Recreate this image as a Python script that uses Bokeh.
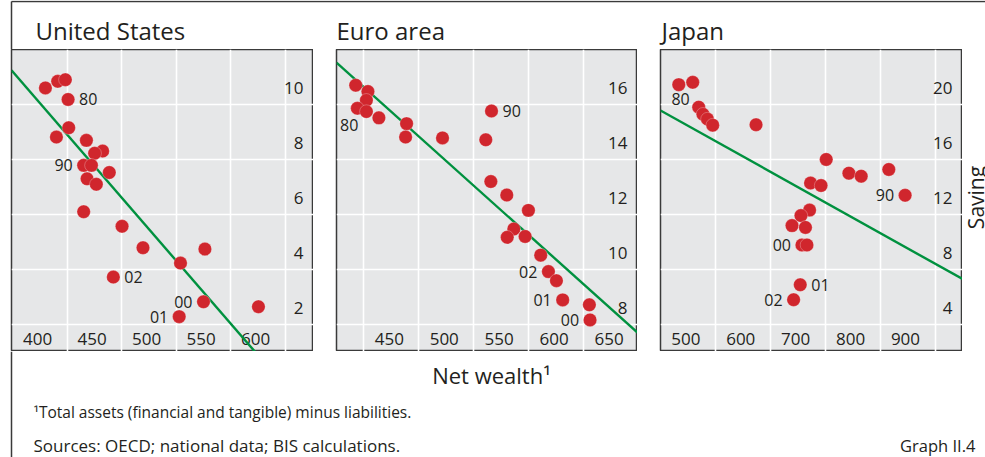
import math
from bokeh.plotting import figure
from bokeh.layouts import column, row
from bokeh.models import Range1d, ColumnDataSource, Grid, FixedTicker
from bokeh.core.properties import value
from bokeh.embed import file_html
from bokeh.resources import INLINE

# ---------------- data (net wealth, % of disposable income; saving rate, %) ----------------
us_wealth = [380.1, 391.4, 398.4, 400.9, 401.5, 390.2, 417.7, 432.6, 425.3, 415.2, 422.3, 418.3,
             426.8, 438.7, 415.2, 450.4, 469.6, 526.4, 504.0, 442.4, 525.1, 502.8, 575.5]
us_saving = [10.60, 10.84, 10.90, 10.18, 9.15, 8.81, 8.69, 8.30, 8.22, 7.78, 7.78, 7.29,
             7.09, 7.52, 6.09, 5.56, 4.78, 4.73, 4.22, 3.71, 2.81, 2.27, 2.63]
us_year = ["", "", "", "80", "", "", "", "", "", "90", "", "",
           "", "", "", "", "", "", "", "02", "00", "01", ""]
us_fit_wealth = [349, 626]
us_fit_saving = [11.24, -1.47]
us_x_ticks = [400, 450, 500, 550, 600]
us_x_tick_labels = ["400", "450", "500", "550", "600"]
us_y_ticks = [2, 4, 6, 8, 10]
us_y_tick_labels = ["2", "4", "6", "8", "10"]

eu_wealth = [392.5, 403.6, 402.2, 394.0, 402.2, 413.6, 438.8, 437.9, 471.5, 510.9, 516.1, 515.5,
             530.0, 549.7, 536.4, 530.4, 546.7, 560.9, 567.9, 575.2, 580.9, 605.2, 605.8]
eu_saving = [16.70, 16.47, 16.15, 15.86, 15.74, 15.51, 15.30, 14.81, 14.78, 14.71, 15.76, 13.19,
             12.70, 12.14, 11.46, 11.16, 11.19, 10.51, 9.91, 9.58, 8.88, 8.70, 8.15]
eu_year = ["", "", "", "80", "", "", "", "", "", "", "90", "",
           "", "", "", "", "", "", "02", "", "01", "", "00"]
eu_fit_wealth = [375, 649]
eu_fit_saving = [17.52, 7.69]
eu_x_ticks = [400, 450, 500, 550, 600, 650]
eu_x_tick_labels = ["", "450", "500", "550", "600", "650"]
eu_y_ticks = [8, 10, 12, 14, 16]
eu_y_tick_labels = ["8", "10", "12", "14", "16"]

jp_wealth = [433.3, 458.7, 469.6, 477.3, 485.5, 495.1, 574.0, 701.8, 743.1, 765.5, 815.8, 845.5,
             673.3, 692.4, 671.5, 655.8, 639.5, 664.0, 657.6, 666.7, 654.5, 642.4]
jp_saving = [21.44, 21.61, 19.80, 19.28, 18.93, 18.49, 18.52, 15.99, 14.99, 14.77, 15.26, 13.38,
             14.27, 14.09, 12.30, 11.90, 11.17, 11.04, 9.76, 9.76, 6.86, 5.77]
jp_year = ["", "", "80", "", "", "", "", "", "", "", "", "90",
           "", "", "", "", "", "", "00", "", "01", "02"]
jp_fit_wealth = [400, 950]
jp_fit_saving = [19.56, 7.28]
jp_x_ticks = [500, 600, 700, 800, 900]
jp_x_tick_labels = ["500", "600", "700", "800", "900"]
jp_y_ticks = [4, 8, 12, 16, 20]
jp_y_tick_labels = ["4", "8", "12", "16", "20"]

titles = ["United States", "Euro area", "Japan"]
x_title = "Net wealth¹"
y_title = "Saving"
footnote = "¹Total assets (financial and tangible) minus liabilities."
sources = "Sources: OECD; national data; BIS calculations."
graph_id = "Graph II.4"

# ---------------- style / layout ----------------
FONT = "Open Sans"
INK = "#231f20"
RED = "#d0262d"
GREEN = "#00913f"
PANEL_BG = "#e6e7e8"
FRAME = "#3a3a3a"
W_TOTAL, H_HEAD, H_PANEL, H_FOOT = 985, 49, 302, 106
W_SIDE = 23

# label placement relative to point: (x_offset, y_offset, align)
PLACE = {"r": (11, 0, "left"), "l": (-11, 0, "right"),
         "bl": (1, 17, "right"), "al": (-9, -8, "right")}
us_side = {"80": "r", "90": "l", "02": "r", "00": "l", "01": "l"}
eu_side = {"80": "bl", "90": "r", "02": "l", "01": "l", "00": "l"}
jp_side = {"80": "al", "90": "l", "00": "l", "01": "r", "02": "l"}


def panel(wealth, saving, years, fit_x, fit_y, xt, xtl, yt, ytl, xr, yr,
          frame_w, left, side):
    p = figure(width=left + frame_w, height=H_PANEL,
               x_range=Range1d(*xr), y_range=Range1d(*yr),
               x_axis_location=None, y_axis_location=None,
               toolbar_location=None, output_backend="svg",
               min_border_left=left, min_border_right=0,
               min_border_top=0, min_border_bottom=0,
               background_fill_color=PANEL_BG, border_fill_color="white",
               outline_line_color=FRAME, outline_line_width=1.5)
    p.grid.visible = False
    gx = [t for t in xt if xr[0] < t < xr[1]]
    gy = [t for t in yt if yr[0] < t < yr[1]]
    p.add_layout(Grid(dimension=0, ticker=FixedTicker(ticks=gx),
                      grid_line_color="white", grid_line_width=1.6))
    p.add_layout(Grid(dimension=1, ticker=FixedTicker(ticks=gy),
                      grid_line_color="white", grid_line_width=1.6))

    # tick labels inside the frame
    p.text(x=xt, y=[yr[0]] * len(xt), text=xtl, x_offset=-15, y_offset=-12.5,
           text_align="right", text_baseline="middle",
           text_font=value(FONT), text_font_size="17px", text_color=INK)
    p.text(x=[xr[1]] * len(yt), y=yt, text=ytl, x_offset=-10, y_offset=-16,
           text_align="right", text_baseline="middle",
           text_font=value(FONT), text_font_size="17px", text_color=INK)

    p.line(fit_x, fit_y, line_color=GREEN, line_width=2.4)
    p.scatter(wealth, saving, size=13.5, fill_color=RED, line_color="white",
              line_width=0.6, line_alpha=0.45)

    lx, ly, lt, xo, yo, al = [], [], [], [], [], []
    for w, s, y in zip(wealth, saving, years):
        if y:
            o = PLACE[side[y]]
            lx.append(w); ly.append(s); lt.append(y)
            xo.append(o[0]); yo.append(o[1]); al.append(o[2])
    src = ColumnDataSource(dict(x=lx, y=ly, text=lt, xo=xo, yo=yo, al=al))
    p.text(x="x", y="y", text="text", x_offset="xo", y_offset="yo", text_align="al",
           text_baseline="middle", source=src,
           text_font=value(FONT), text_font_size="16px", text_color=INK)
    return p


us = panel(us_wealth, us_saving, us_year, us_fit_wealth, us_fit_saving,
           us_x_ticks, us_x_tick_labels, us_y_ticks, us_y_tick_labels,
           (349, 626), (1, 12), 302, 11, us_side)
eu = panel(eu_wealth, eu_saving, eu_year, eu_fit_wealth, eu_fit_saving,
           eu_x_ticks, eu_x_tick_labels, eu_y_ticks, eu_y_tick_labels,
           (375, 649), (7, 18), 301, 23, eu_side)
jp = panel(jp_wealth, jp_saving, jp_year, jp_fit_wealth, jp_fit_saving,
           jp_x_ticks, jp_x_tick_labels, jp_y_ticks, jp_y_tick_labels,
           (400, 950), (2, 24), 302, 23, jp_side)


def strip(w, h):
    f = figure(width=w, height=h, x_range=Range1d(0, w), y_range=Range1d(0, h),
               x_axis_location=None, y_axis_location=None,
               toolbar_location=None, output_backend="svg",
               min_border_left=0, min_border_right=0, min_border_top=0, min_border_bottom=0,
               outline_line_color=None, background_fill_color="white", border_fill_color="white")
    f.grid.visible = False
    return f


# right margin strip holding the (cut-off) y-axis title
side = strip(W_SIDE, H_PANEL)
side.text(x=[-1], y=[H_PANEL / 2 + 3], text=[y_title], angle=math.pi / 2,
          text_align="center", text_baseline="top",
          text_font=value(FONT), text_font_size="21px", text_color=INK)

head = strip(W_TOTAL, H_HEAD)
head.segment(x0=[11, 11], y0=[0, H_HEAD - 1], x1=[11, W_TOTAL], y1=[H_HEAD - 1, H_HEAD - 1],
             line_color=FRAME, line_width=1.5)
head.text(x=[35, 336, 661], y=[19.5] * 3, text=titles, text_align="left",
          text_baseline="middle", text_font=value(FONT), text_font_size="24px",
          text_color=INK)

foot = strip(W_TOTAL, H_FOOT)
foot.segment(x0=[11], y0=[0], x1=[11], y1=[H_FOOT], line_color=FRAME, line_width=1.5)
foot.text(x=[491], y=[83], text=[x_title], text_align="center", text_baseline="middle",
          text_font=value(FONT), text_font_size="22px", text_color=INK)
foot.text(x=[33], y=[46], text=[footnote], text_align="left", text_baseline="middle",
          text_font=value(FONT), text_font_size="15.5px", text_color=INK)
foot.text(x=[33], y=[12], text=[sources], text_align="left", text_baseline="middle",
          text_font=value(FONT), text_font_size="17px", text_color=INK)
foot.text(x=[975], y=[12], text=[graph_id], text_align="right", text_baseline="middle",
          text_font=value(FONT), text_font_size="16.5px", text_color=INK)

layout = column(head, row(us, eu, jp, side), foot)
open("out.html", "w").write(file_html(layout, INLINE))
